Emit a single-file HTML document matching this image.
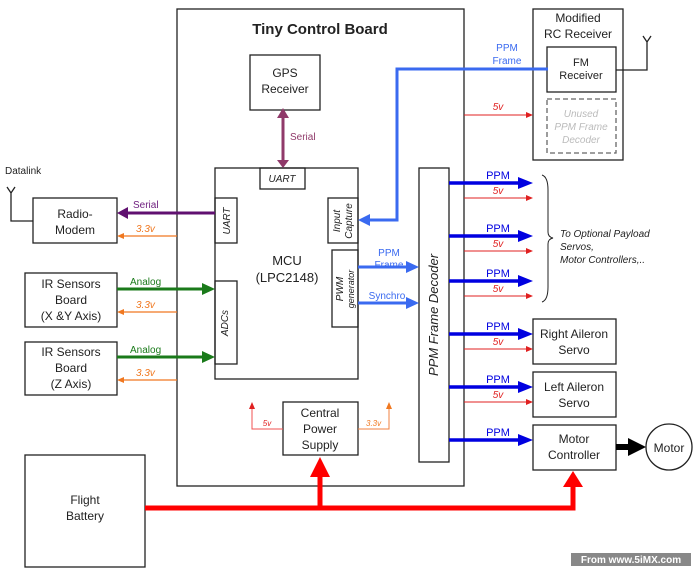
<!DOCTYPE html><html><head><style>body{margin:0;background:#fff}svg{display:block}text{font-family:"Liberation Sans",sans-serif}</style></head><body>
<svg width="696" height="570" viewBox="0 0 696 570" xmlns="http://www.w3.org/2000/svg">
<defs>
<marker id="ab" markerWidth="6" markerHeight="6" refX="5" refY="3" orient="auto" markerUnits="userSpaceOnUse" viewBox="0 0 6 6"><path d="M0,0L6,3L0,6z" fill="#0000e0"/></marker>
</defs>
<g fill="none" stroke="#222" stroke-width="1.3">
<rect x="177" y="9" width="287" height="477"/>
<rect x="250" y="55" width="70" height="55"/>
<rect x="215" y="168" width="143" height="211"/>
<rect x="260" y="168" width="45" height="21"/>
<rect x="215" y="198" width="22" height="45"/>
<rect x="328" y="198" width="30" height="45"/>
<rect x="332" y="250" width="26" height="77"/>
<rect x="215" y="281" width="22" height="83"/>
<rect x="419" y="168" width="30" height="294"/>
<rect x="33" y="198" width="84" height="45"/>
<rect x="25" y="273" width="92" height="54"/>
<rect x="25" y="342" width="92" height="53"/>
<rect x="533" y="9" width="90" height="151"/>
<rect x="547" y="47" width="69" height="45"/>
<rect x="547" y="99" width="69" height="54" stroke="#666" stroke-dasharray="5,3"/>
<rect x="533" y="319" width="83" height="45"/>
<rect x="533" y="372" width="83" height="45"/>
<rect x="533" y="425" width="83" height="45"/>
<circle cx="669" cy="447" r="23"/>
<rect x="283" y="402" width="75" height="53"/>
<rect x="25" y="455" width="120" height="112"/>
<path d="M33,221H11V193M7,187L11,193L15,187M616,70H647V42M643,36L647,42L651,36"/>
<path d="M542,175Q548,177 548,190V232Q548,237 553,238Q548,239 548,244V287Q548,300 542,302" stroke-width="1"/>
</g>
<!-- serial gps -->
<path d="M283,118V160" stroke="#903a6a" stroke-width="3"/>
<path d="M277,118L283,108L289,118zM277,160L283,168L289,160z" fill="#903a6a"/>
<!-- radio serial -->
<path d="M215,213H128" stroke="#601070" stroke-width="3"/><path d="M128,207L117,213L128,219z" fill="#601070"/>
<g stroke="#f07820" stroke-width="1.2"><path d="M177,236H122M177,312H122M177,380H122"/></g>
<g fill="#f07820"><path d="M124,233L117,236L124,239zM124,309L117,312L124,315zM124,377L117,380L124,383z"/></g>
<g stroke="#1a7a1a" stroke-width="3"><path d="M117,289H203M117,357H203"/></g>
<g fill="#1a7a1a"><path d="M202,283L215,289L202,295zM202,351L215,357L202,363z"/></g>
<!-- ppm frame receiver -->
<path d="M548,69H397V220H370" stroke="#3a6af0" stroke-width="3" fill="none"/><path d="M370,214L358,220L370,226z" fill="#3a6af0"/>
<path d="M358,267H407M358,303H407" stroke="#3a6af0" stroke-width="3"/>
<path d="M406,261L419,267L406,273zM406,297L419,303L406,309z" fill="#3a6af0"/>
<!-- outputs -->
<g stroke="#0000e0" stroke-width="3.5"><path d="M449,183H520M449,236H520M449,281H520M449,334H520M449,387H520M449,440H520"/></g>
<g fill="#0000e0"><path d="M518,177L533,183L518,189zM518,230L533,236L518,242zM518,275L533,281L518,287zM518,328L533,334L518,340zM518,381L533,387L518,393zM518,434L533,440L518,446z"/></g>
<g stroke="#e02020" stroke-width="1"><path d="M464,115H527M464,198H527M464,251H527M464,296H527M464,349H527M464,402H527"/></g>
<g fill="#e02020"><path d="M526,112L533,115L526,118zM526,195L533,198L526,201zM526,248L533,251L526,254zM526,293L533,296L526,299zM526,346L533,349L526,352zM526,399L533,402L526,405z"/></g>
<path d="M616,447H632" stroke="#000" stroke-width="6"/><path d="M628,438L646,447L628,456z" fill="#000"/>
<!-- power -->
<path d="M283,429H252V408" stroke="#f05050" stroke-width="1" fill="none"/><path d="M249,409L252,402L255,409z" fill="#e02020"/>
<path d="M358,429H389V408" stroke="#f08040" stroke-width="1" fill="none"/><path d="M386,409L389,402L392,409z" fill="#f07820"/>
<path d="M145,508H573V485M320,508V475" stroke="#f00" stroke-width="5" fill="none"/>
<path d="M310,477L320,457L330,477zM563,487L573,471L583,487z" fill="#f00"/>
<!-- text -->
<g font-size="12" fill="#222" text-anchor="middle">
<text x="320" y="34" font-size="15" font-weight="bold">Tiny Control Board</text>
<text x="285" y="77">GPS</text><text x="285" y="93">Receiver</text>
<text x="287" y="265" font-size="13">MCU</text><text x="287" y="282" font-size="13">(LPC2148)</text>
<text x="75" y="218">Radio-</text><text x="75" y="234">Modem</text>
<text x="71" y="288">IR Sensors</text><text x="71" y="304">Board</text><text x="71" y="320">(X &amp;Y Axis)</text>
<text x="71" y="356">IR Sensors</text><text x="71" y="372">Board</text><text x="71" y="388">(Z Axis)</text>
<text x="578" y="22">Modified</text><text x="578" y="38">RC Receiver</text>
<text x="581" y="66" font-size="11">FM</text><text x="581" y="79" font-size="11">Receiver</text>
<text x="574" y="338">Right Aileron</text><text x="574" y="354">Servo</text>
<text x="574" y="391">Left Aileron</text><text x="574" y="407">Servo</text>
<text x="574" y="443">Motor</text><text x="574" y="459">Controller</text>
<text x="669" y="452">Motor</text>
<text x="320" y="417">Central</text><text x="320" y="433">Power</text><text x="320" y="449">Supply</text>
<text x="85" y="504">Flight</text><text x="85" y="520">Battery</text>
</g>
<g font-size="10" fill="#222" font-style="italic" text-anchor="middle">
<text x="282" y="182">UART</text>
<text transform="translate(230,221) rotate(-90)">UART</text>
<text transform="translate(228,323) rotate(-90)">ADCs</text>
<text transform="translate(340,221) rotate(-90)">Input</text><text transform="translate(352,221) rotate(-90)">Capture</text>
<text transform="translate(343,289) rotate(-90)">PWM</text><text transform="translate(354,289) rotate(-90)" font-size="9">generator</text>
<text transform="translate(438,315) rotate(-90)" font-size="13">PPM Frame Decoder</text>
</g>
<g font-size="10" fill="#bbb" font-style="italic" text-anchor="middle"><text x="581" y="117">Unused</text><text x="581" y="130">PPM Frame</text><text x="581" y="143">Decoder</text></g>
<g font-size="10" fill="#222" font-style="italic"><text x="560" y="237">To Optional Payload</text><text x="560" y="250">Servos,</text><text x="560" y="263">Motor Controllers,..</text></g>
<text x="5" y="174" font-size="10" fill="#222">Datalink</text>
<text x="290" y="140" font-size="10" fill="#903a6a">Serial</text>
<text x="133" y="208" font-size="10" fill="#702080">Serial</text>
<g font-size="10" fill="#1a7a1a"><text x="130" y="285">Analog</text><text x="130" y="353">Analog</text></g>
<g font-size="10" fill="#f07820" font-style="italic"><text x="136" y="232">3.3v</text><text x="136" y="308">3.3v</text><text x="136" y="376">3.3v</text><text x="366" y="426" font-size="8">3.3v</text></g>
<g font-size="10" fill="#3a6af0" text-anchor="middle"><text x="507" y="51">PPM</text><text x="507" y="64">Frame</text><text x="389" y="256">PPM</text><text x="389" y="268">Frame</text><text x="387" y="299">Synchro</text></g>
<g font-size="11" fill="#0000e0" text-anchor="middle"><text x="498" y="179">PPM</text><text x="498" y="232">PPM</text><text x="498" y="277">PPM</text><text x="498" y="330">PPM</text><text x="498" y="383">PPM</text><text x="498" y="436">PPM</text></g>
<g font-size="10" fill="#e02020" font-style="italic" text-anchor="middle"><text x="498" y="110">5v</text><text x="498" y="194">5v</text><text x="498" y="247">5v</text><text x="498" y="292">5v</text><text x="498" y="345">5v</text><text x="498" y="398">5v</text><text x="267" y="426" font-size="8">5v</text></g>
<rect x="571" y="553" width="120" height="13" fill="#888"/>
<text x="631" y="563" font-size="10" font-weight="bold" fill="#fff" text-anchor="middle" font-family="Liberation Mono">From www.5iMX.com</text>
</svg>
</body></html>
